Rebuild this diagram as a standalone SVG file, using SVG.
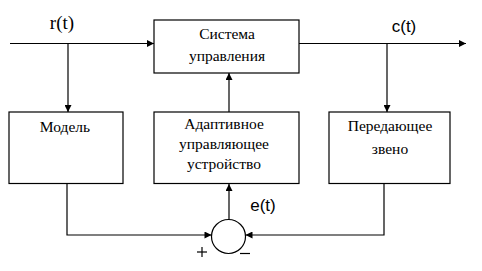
<svg xmlns="http://www.w3.org/2000/svg" width="482" height="271" viewBox="0 0 482 271">
<style>
.box{fill:#fff;stroke:#000;stroke-width:1.2}
.ln{fill:none;stroke:#000;stroke-width:1.2}
.t{font-family:'Liberation Serif','Times New Roman','DejaVu Serif',serif;font-size:15.5px;fill:#000;text-anchor:middle}
.s{font-family:'Liberation Sans',Arial,sans-serif;font-size:17px;fill:#000;text-anchor:middle}
.rt{font-family:'Liberation Serif','Times New Roman','DejaVu Serif',serif;font-size:19px;fill:#000;text-anchor:middle}
</style>
<defs>
<marker id="ar" viewBox="0 0 10 10" refX="10" refY="5" markerWidth="9" markerHeight="7" markerUnits="userSpaceOnUse" orient="auto">
<path d="M0,0 L10,5 L0,10 Z" fill="#000"/>
</marker>
</defs>
<rect width="482" height="271" fill="#fff"/>
<g id="connectors">
<line class="ln" x1="10" y1="43.5" x2="154" y2="43.5" marker-end="url(#ar)"/>
<line class="ln" x1="68" y1="43.5" x2="68" y2="112" marker-end="url(#ar)"/>
<line class="ln" x1="299" y1="43.5" x2="466" y2="43.5" marker-end="url(#ar)"/>
<line class="ln" x1="387" y1="43.5" x2="387" y2="112" marker-end="url(#ar)"/>
<line class="ln" x1="229" y1="112" x2="229" y2="73" marker-end="url(#ar)"/>
<line class="ln" x1="229" y1="219.5" x2="229" y2="184" marker-end="url(#ar)"/>
<polyline class="ln" points="67,184 67,235 211.5,235" marker-end="url(#ar)"/>
<polyline class="ln" points="384,184 384,235 245.5,235" marker-end="url(#ar)"/>
<text class="rt" x="62" y="29" font-family="Liberation Serif, serif">r(t)</text>
<text class="s" x="404" y="32">c(t)</text>
<text class="s" x="263" y="211">e(t)</text>
<line class="ln" x1="197" y1="252" x2="207" y2="252"/>
<line class="ln" x1="202" y1="247" x2="202" y2="257"/>
<line class="ln" x1="240" y1="253.5" x2="250" y2="253.5"/>
</g>
<g id="system">
<rect class="box" x="154" y="20" width="145" height="53"/>
<text class="t" x="227" y="39" font-family="Liberation Serif, serif">Система</text>
<text class="t" x="227" y="61" font-family="Liberation Serif, serif">управления</text>
</g>
<g id="model">
<rect class="box" x="9" y="112" width="114" height="71.5"/>
<text class="t" x="65" y="132" font-family="Liberation Serif, serif">Модель</text>
</g>
<g id="adaptive">
<rect class="box" x="154" y="112" width="145" height="71.5"/>
<text class="t" x="224" y="129" font-family="Liberation Serif, serif">Адаптивное</text>
<text class="t" x="224" y="149" font-family="Liberation Serif, serif">управляющее</text>
<text class="t" x="224" y="169" font-family="Liberation Serif, serif">устройство</text>
</g>
<g id="transmission">
<rect class="box" x="329" y="112" width="121" height="71.5"/>
<text class="t" x="390" y="131" font-family="Liberation Serif, serif">Передающее</text>
<text class="t" x="390" y="154" font-family="Liberation Serif, serif">звено</text>
</g>
<g id="summator">
<circle class="box" cx="228.5" cy="236.5" r="17"/>
</g>
</svg>
